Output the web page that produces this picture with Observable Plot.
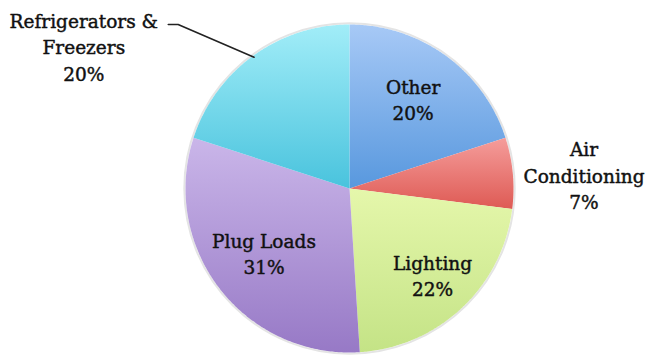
<!DOCTYPE html>
<html>
<head>
<meta charset="utf-8">
<script src="https://cdn.jsdelivr.net/npm/d3@7"></script>
<script src="https://cdn.jsdelivr.net/npm/@observablehq/plot@0.6"></script>
<style>
  html, body { margin: 0; padding: 0; background: #fff; }
  #chart svg { display: block; }
</style>
</head>
<body>
<div id="chart"></div>
<script>
// ---- data ----
const categories = ["Other", "Air Conditioning", "Lighting", "Plug Loads", "Refrigerators & Freezers"];
const shares = [20, 7, 22, 31, 20];
const labelLines = [
  ["Other", "20%"],
  ["Air", "Conditioning", "7%"],
  ["Lighting", "22%"],
  ["Plug Loads", "31%"],
  ["Refrigerators &", "Freezers", "20%"]
];
const colorsTop = ["#a7c9f6", "#f59d9b", "#e5f7ab", "#cab6e9", "#a2edf8"];
const colorsBottom = ["#5898de", "#de5a54", "#c4e386", "#9779c6", "#49c3dd"];

// ---- layout ----
const W = 646, H = 358, CX = 349, CY = 188, R = 164;
const labelRadius = [0.66, null, 0.74, 0.66, null];
const customLabel = { 1: [1.43, -0.07], 4: [-1.62, -0.855] };
const fontSize = 18.5, lineH = 26.5;

const total = d3.sum(shares);
const pie = [];
let acc = 0;
shares.forEach((v, i) => {
  const a0 = acc / total * 2 * Math.PI;
  acc += v;
  const a1 = acc / total * 2 * Math.PI;
  pie.push({ i, a0, a1, mid: (a0 + a1) / 2 });
});

const slicePts = pie.map(s => {
  const pts = [{ x: 0, y: 0 }];
  const n = Math.max(8, Math.ceil((s.a1 - s.a0) / 0.01));
  for (let k = 0; k <= n; k++) {
    const a = s.a0 + (s.a1 - s.a0) * k / n;
    pts.push({ x: Math.sin(a), y: -Math.cos(a) });
  }
  pts.push({ x: 0, y: 0 });
  return pts;
});

const labels = [];
pie.forEach(s => {
  let cx, cy;
  if (labelRadius[s.i] != null) {
    cx = Math.sin(s.mid) * labelRadius[s.i];
    cy = -Math.cos(s.mid) * labelRadius[s.i];
  } else {
    [cx, cy] = customLabel[s.i];
  }
  const lines = labelLines[s.i];
  const n = lines.length;
  lines.forEach((t, j) => {
    labels.push({ x: cx, y: cy + ((j - (n - 1) / 2) * lineH) / R, text: t });
  });
});

const rs = pie[4];
const edge = { x: Math.sin(rs.mid) * 0.99, y: -Math.cos(rs.mid) * 0.99 };
const leader = [
  { x: -1.105, y: -1.0 },
  { x: -1.045, y: -1.0 },
  edge
];

const marks = [
  Plot.dot([{ x: 0, y: 0 }], { x: "x", y: "y", r: R + 1.2, fill: "none", stroke: "#e4e4e4", strokeWidth: 2 })
];
slicePts.forEach((pts, i) => {
  marks.push(Plot.line(pts, { x: "x", y: "y", fill: `url(#grad${i})`, stroke: "none", curve: "linear" }));
});
marks.push(Plot.line(leader, { x: "x", y: "y", stroke: "#222", strokeWidth: 1.6 }));
marks.push(Plot.text(labels, {
  x: "x", y: "y", text: "text",
  fontSize: fontSize, fontFamily: "DejaVu Serif", fill: "#111",
  stroke: "#111", strokeWidth: 0.45,
  textAnchor: "middle"
}));

const chart = Plot.plot({
  width: W, height: H,
  marginTop: 0, marginRight: 0, marginBottom: 0, marginLeft: 0,
  style: { background: "#fff", fontFamily: "DejaVu Serif" },
  x: { domain: [-CX / R, (W - CX) / R], range: [0, W], axis: null },
  y: { domain: [-CY / R, (H - CY) / R], range: [0, H], axis: null },
  marks
});

const svg = d3.select(chart);
const defs = svg.insert("defs", ":first-child");
colorsTop.forEach((c, i) => {
  const g = defs.append("linearGradient").attr("id", `grad${i}`)
    .attr("x1", 0).attr("y1", 0).attr("x2", 0).attr("y2", 1);
  g.append("stop").attr("offset", "0%").attr("stop-color", c);
  g.append("stop").attr("offset", "100%").attr("stop-color", colorsBottom[i]);
});

document.getElementById("chart").appendChild(chart);
</script>
</body>
</html>
